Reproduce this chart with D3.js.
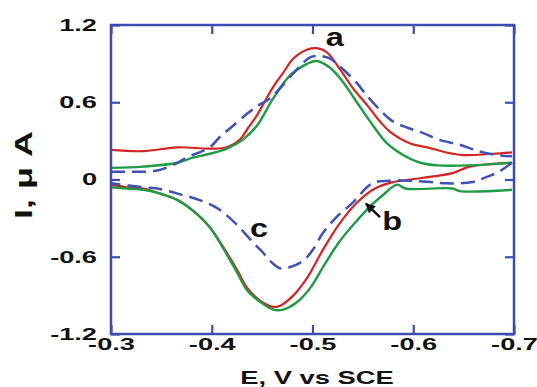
<!DOCTYPE html>
<html lang="en">
<head>
<meta charset="UTF-8">
<title>Cyclic voltammograms</title>
<script src="https://d3js.org/d3.v7.min.js"></script>
<style>
  body { margin: 0; background: white; }
  svg { display: block; font-family: "Liberation Sans", Arial, sans-serif; }
  .tick text { font-size: 17px; font-weight: bold; fill: #111; }
  .tick line { stroke: #3d4cb0; stroke-width: 2.2; }
  .domain { display: none; }
  .trace { fill: none; stroke-linejoin: round; stroke-linecap: butt; }
  .note { font-weight: bold; fill: #111; }
</style>
</head>
<body>
<svg width="537" height="387"></svg>
<script>
// potential (V vs SCE) / current (uA) pairs
const redAnodic = [[-0.30,0.23],[-0.332,0.22],[-0.366,0.25],[-0.398,0.24],[-0.415,0.25],[-0.428,0.31],[-0.436,0.40],
  [-0.445,0.50],[-0.461,0.72],[-0.471,0.83],[-0.481,0.94],[-0.495,1.01],[-0.504,1.02],[-0.514,0.99],[-0.527,0.86],
  [-0.540,0.71],[-0.554,0.58],[-0.567,0.45],[-0.577,0.37],[-0.597,0.28],[-0.614,0.25],[-0.633,0.21],[-0.649,0.19],
  [-0.679,0.20],[-0.698,0.21]];
const redCathodic = [[-0.698,0.13],[-0.656,0.10],[-0.639,0.05],[-0.607,0.01],[-0.580,-0.02],[-0.562,-0.07],
  [-0.544,-0.18],[-0.527,-0.34],[-0.510,-0.55],[-0.495,-0.76],[-0.481,-0.90],[-0.468,-0.98],[-0.461,-0.99],
  [-0.448,-0.94],[-0.435,-0.84],[-0.425,-0.70],[-0.411,-0.52],[-0.398,-0.37],[-0.381,-0.24],[-0.366,-0.16],
  [-0.349,-0.11],[-0.332,-0.07],[-0.316,-0.06],[-0.30,-0.04]];
const greenAnodic = [[-0.30,0.09],[-0.332,0.10],[-0.366,0.13],[-0.381,0.17],[-0.398,0.20],[-0.415,0.24],[-0.431,0.31],
  [-0.445,0.42],[-0.461,0.63],[-0.478,0.81],[-0.495,0.90],[-0.504,0.92],[-0.517,0.87],[-0.530,0.76],[-0.544,0.60],
  [-0.560,0.42],[-0.574,0.28],[-0.590,0.19],[-0.607,0.13],[-0.624,0.11],[-0.656,0.11],[-0.698,0.13]];
const greenCathodic = [[-0.698,-0.08],[-0.646,-0.09],[-0.639,-0.07],[-0.592,-0.07],[-0.584,-0.04],[-0.570,-0.12],
  [-0.557,-0.21],[-0.544,-0.32],[-0.527,-0.48],[-0.512,-0.66],[-0.498,-0.84],[-0.485,-0.95],[-0.471,-1.01],
  [-0.461,-1.01],[-0.448,-0.95],[-0.435,-0.86],[-0.425,-0.72],[-0.411,-0.53],[-0.398,-0.37],[-0.381,-0.24],
  [-0.366,-0.16],[-0.349,-0.11],[-0.332,-0.08],[-0.316,-0.07],[-0.30,-0.06]];
const blueAnodic = [[-0.30,0.06],[-0.315,0.06],[-0.346,0.07],[-0.366,0.13],[-0.375,0.17],[-0.398,0.25],[-0.408,0.33],
  [-0.420,0.41],[-0.435,0.51],[-0.445,0.57],[-0.458,0.63],[-0.468,0.71],[-0.485,0.86],[-0.498,0.95],[-0.506,0.96],
  [-0.517,0.94],[-0.524,0.90],[-0.544,0.75],[-0.552,0.67],[-0.567,0.54],[-0.580,0.45],[-0.595,0.40],[-0.610,0.36],
  [-0.625,0.31],[-0.646,0.27],[-0.665,0.22],[-0.683,0.19],[-0.698,0.18]];
const blueCathodic = [[-0.698,0.13],[-0.685,0.06],[-0.673,0.02],[-0.659,-0.02],[-0.633,-0.03],[-0.617,-0.02],
  [-0.597,-0.01],[-0.577,-0.01],[-0.562,-0.02],[-0.554,-0.06],[-0.540,-0.18],[-0.524,-0.29],[-0.510,-0.42],
  [-0.500,-0.55],[-0.491,-0.63],[-0.478,-0.68],[-0.468,-0.69],[-0.459,-0.64],[-0.450,-0.56],[-0.441,-0.49],
  [-0.432,-0.41],[-0.418,-0.30],[-0.405,-0.22],[-0.388,-0.16],[-0.371,-0.12],[-0.346,-0.07],
  [-0.332,-0.06],[-0.30,-0.03]];

const xTicks = [-0.3, -0.4, -0.5, -0.6, -0.7];
const xTickLabels = ["-0.3", "-0.4", "-0.5", "-0.6", "-0.7"];
const yTicks = [1.2, 0.6, 0, -0.6, -1.2];
const yTickLabels = ["1.2", "0.6", "0", "-0.6", "-1.2"];

const margin = { top: 25, right: 23, bottom: 53, left: 111 };
const width = 537 - margin.left - margin.right;
const height = 387 - margin.top - margin.bottom;
const SX = 1.6; // the figure's lettering is very wide
const axisColor = "#3d4cb0";

const svg = d3.select("svg");
const g = svg.append("g").attr("transform", `translate(${margin.left},${margin.top})`);

const x = d3.scaleLinear().domain([-0.3, -0.7]).range([0, width]);
const y = d3.scaleLinear().domain([-1.2, 1.2]).range([height, 0]);

const line = d3.line()
  .x(d => x(d[0]))
  .y(d => y(d[1]))
  .curve(d3.curveCatmullRom.alpha(0.5));

// traces: red first, green over it, blue dashed on top
const traces = [
  { pts: redAnodic, color: "#d42424", w: 2.2 },
  { pts: redCathodic, color: "#d42424", w: 2.2 },
  { pts: greenAnodic, color: "#1f9a45", w: 2.4 },
  { pts: greenCathodic, color: "#1f9a45", w: 2.4 },
  { pts: blueAnodic, color: "#3f51b5", w: 2.5, dash: "14,7" },
  { pts: blueCathodic, color: "#3f51b5", w: 2.5, dash: "14,7" }
];
g.selectAll("path.trace")
  .data(traces)
  .enter()
  .append("path")
  .attr("class", "trace")
  .attr("d", d => line(d.pts))
  .attr("stroke", d => d.color)
  .attr("stroke-width", d => d.w)
  .attr("stroke-dasharray", d => d.dash || null);

// axes with inward ticks
g.append("g")
  .attr("transform", `translate(0,${height})`)
  .call(d3.axisBottom(x).tickValues(xTicks).tickFormat((d, i) => xTickLabels[i])
    .tickSizeInner(-9).tickSizeOuter(0).tickPadding(4))
  .selectAll("text").attr("transform", `scale(${SX},1)`);

g.append("g")
  .call(d3.axisTop(x).tickValues(xTicks).tickFormat("").tickSizeInner(-9).tickSizeOuter(0));

g.append("g")
  .call(d3.axisLeft(y).tickValues(yTicks).tickFormat((d, i) => yTickLabels[i])
    .tickSizeInner(-9).tickSizeOuter(0).tickPadding(14))
  .selectAll("text")
  .attr("x", -14 / SX)
  .attr("transform", `scale(${SX},1)`);

g.append("g")
  .attr("transform", `translate(${width},0)`)
  .call(d3.axisRight(y).tickValues(yTicks).tickFormat("").tickSizeInner(-9).tickSizeOuter(0));

g.append("rect")
  .attr("width", width)
  .attr("height", height)
  .attr("fill", "none")
  .attr("stroke", axisColor)
  .attr("stroke-width", 2.5);

// axis titles
svg.append("text")
  .attr("transform", `translate(317,384) scale(1.52,1)`)
  .attr("text-anchor", "middle")
  .attr("class", "note")
  .style("font-size", "18px")
  .text("E, V vs SCE");

svg.append("text")
  .attr("transform", `translate(32,175) rotate(-90) scale(1.5,1)`)
  .attr("text-anchor", "middle")
  .attr("class", "note")
  .style("font-size", "24px")
  .text("I, μ A");

// curve labels
const notes = [
  { t: "a", e: -0.522, i: 1.035 },
  { t: "b", e: -0.579, i: -0.394 },
  { t: "c", e: -0.447, i: -0.448 }
];
g.selectAll("text.lbl")
  .data(notes)
  .enter()
  .append("text")
  .attr("class", "note")
  .attr("text-anchor", "middle")
  .style("font-size", "25px")
  .attr("transform", d => `translate(${x(d.e)},${y(d.i)}) scale(1.3,1)`)
  .text(d => d.t);

// arrow for b
svg.append("defs").append("marker")
  .attr("id", "head")
  .attr("viewBox", "0 0 10 10")
  .attr("refX", 9).attr("refY", 5)
  .attr("markerWidth", 4).attr("markerHeight", 4)
  .attr("orient", "auto")
  .append("path").attr("d", "M0,0L10,5L0,10z").attr("fill", "#111");

g.append("line")
  .attr("x1", x(-0.567)).attr("y1", y(-0.292))
  .attr("x2", x(-0.553)).attr("y2", y(-0.187))
  .attr("stroke", "#111")
  .attr("stroke-width", 2.5)
  .attr("marker-end", "url(#head)");
</script>
</body>
</html>
